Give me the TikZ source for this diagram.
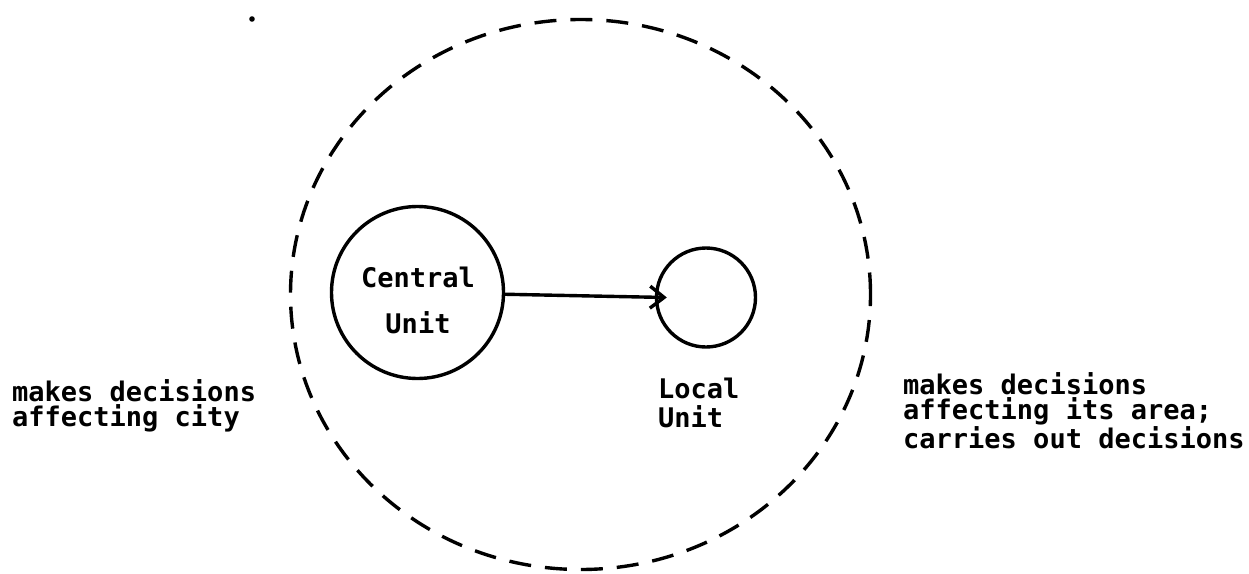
\documentclass[tikz,border=0pt]{standalone}
\usepackage{fontspec}
\newfontfamily\typew{DejaVu Sans Mono}
\usetikzlibrary{shapes.geometric,arrows.meta}
\tikzset{
  ink/.style={line width=3.4pt, draw=black},
  unitring/.style={ink, circle, inner sep=0pt},
  cityring/.style={ink, ellipse, inner sep=0pt, dash pattern=on 22pt off 14pt},
  note/.style={inner sep=0pt, align=left, anchor=base west,
    font=\typew\bfseries\fontsize{27}{#1}\selectfont},
  flow/.style={ink, -{Straight Barb[length=14pt,width=22pt,line width=3.4pt]}},
}
\begin{document}
\begin{tikzpicture}[x=1pt,y=-1pt]
  \useasboundingbox (0,0) rectangle (1249,573);

  % the city as a whole
  \node[cityring, minimum width=580pt, minimum height=550pt] (city) at (580.5,294.5) {};

  % the two units (text blocks sit on the baseline of their last line)
  \node[unitring, minimum size=172pt] (cu) at (417.5,292.5) {};
  \node[unitring, minimum size=99pt] (lu) at (706,297.5) {};
  \node[note=46pt, align=center, anchor=base] (cutext) at (418,333) {Central\\Unit};
  \node[note=29pt] (lutext) at (658,427) {Local\\Unit};

  % decisions pass from the central unit to the local unit
  \coordinate (tip) at ([xshift=12pt]lu.west);
  \draw[flow] (cu) -- (tip);

  % roles of each unit
  \node[note=25pt] (cuRole) at (12,426) {makes decisions\\affecting city};
  \node[note=25pt] (luRole) at (903,448) {makes decisions\\affecting its area;\\carries out decisions};

  % stray mark at top left
  \fill (252,19) circle (2.8pt);
\end{tikzpicture}
\end{document}
